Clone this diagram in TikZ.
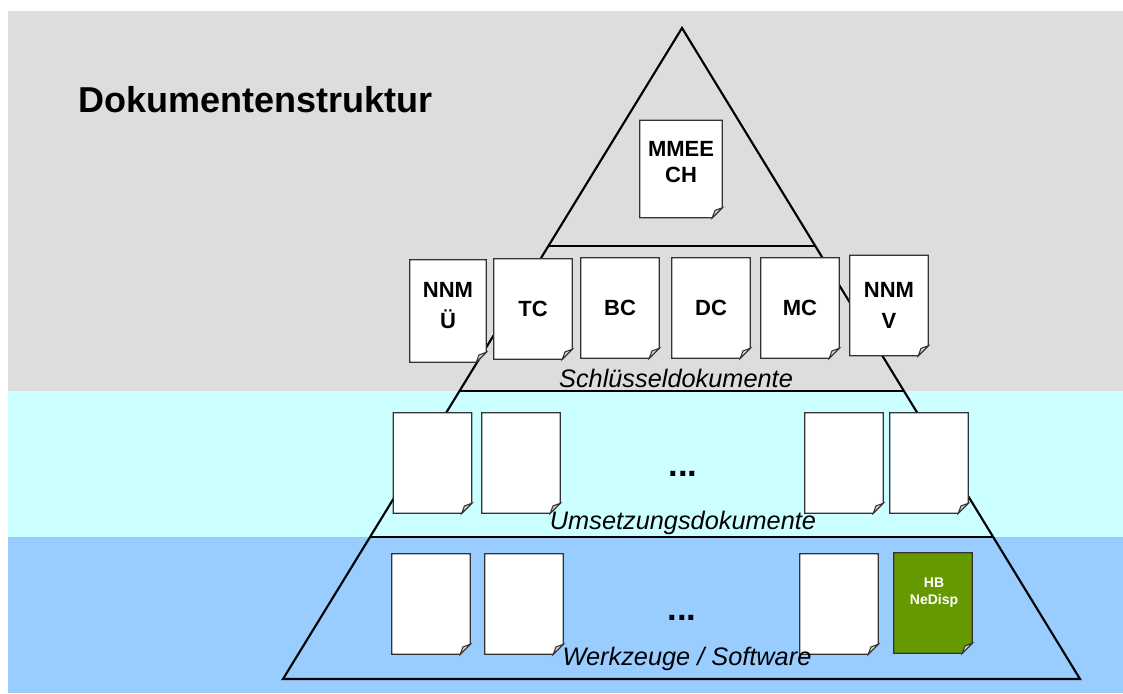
\documentclass[tikz,border=0pt]{standalone}
\usepackage{fontspec}
\setmainfont{Liberation Sans}
\usetikzlibrary{calc,positioning}
\pgfdeclarelayer{back}
\pgfdeclarelayer{paper}
\pgfsetlayers{back,paper,main}

\definecolor{bandgray}{HTML}{DDDDDD}
\definecolor{bandcyan}{HTML}{CCFFFF}
\definecolor{bandblue}{HTML}{99CCFF}
\definecolor{hbgreen}{HTML}{669900}

\begin{document}
\begin{tikzpicture}[x=0.75pt,y=-0.75pt,
  docpage/.style={minimum width=58.5pt,minimum height=75pt,inner sep=0pt,align=center,
    font=\bfseries\fontsize{16.5}{23.5}\selectfont},
  pageline/.style={line width=0.8pt,draw=black!80},
  pyramid/.style={line width=1.6pt,line join=miter},
  levellabel/.style={font=\itshape\fontsize{19}{22}\selectfont},
  dots/.style={font=\bfseries\fontsize{26}{30}\selectfont}]

  \useasboundingbox (0,0) rectangle (1123,693);

  % pyramid corners
  \coordinate (apex) at (682,28);
  \coordinate (bl) at (283,679);
  \coordinate (br) at (1080,679);

  \begin{pgfonlayer}{back}
    \fill [bandgray] (8,11) rectangle (1123,391);
    \fill [bandcyan] (8,391) rectangle (1123,537);
    \fill [bandblue] (8,537) rectangle (1123,693);
    \draw [pyramid] (apex) -- (bl) -- (br) -- cycle;
    \draw [pyramid] ($(apex)!0.3349!(bl)$) -- ($(apex)!0.3349!(br)$);
    \draw [pyramid] ($(apex)!0.5576!(bl)$) -- ($(apex)!0.5576!(br)$);
    \draw [pyramid] ($(apex)!0.7819!(bl)$) -- ($(apex)!0.7819!(br)$);
  \end{pgfonlayer}

  \node [anchor=west,font=\bfseries\fontsize{27}{32}\selectfont] (title) at (74,100) {Dokumentenstruktur};

  % top
  \node [docpage,minimum width=61.5pt,minimum height=72.75pt,font=\bfseries\fontsize{16.5}{20}\selectfont]
    (mmeech) at (681,169) {MMEE\\CH\rule[-10.5pt]{0pt}{10.5pt}};

  % key documents
  \node [docpage,minimum width=57pt,minimum height=76.5pt] (nnmu) at (448,311) {NNM\\Ü\rule[-8.3pt]{0pt}{8.3pt}};
  \node [docpage] (tc) at (533,309) {TC};
  \node [docpage] (bc) at (620,308) {BC};
  \node [docpage] (dc) at (711,308) {DC};
  \node [docpage] (mc) at (800,308) {MC};
  \node [docpage] (nnmv) at (889,305.5) {NNM\\V};
  \node [levellabel] (schl) at (676,378) {Schlüsseldokumente};

  % implementation documents
  \node [docpage] (ua) at (432.5,463) {};
  \node [docpage] (ub) at (521,463) {};
  \node [docpage] (uc) at (844,463) {};
  \node [docpage] (ud) at (929,463) {};
  \node [dots] (udots) at (683,474) {...};
  \node [levellabel] (umset) at (683,523) {Umsetzungsdokumente};

  % tools
  \node [docpage] (wa) at (431,604) {};
  \node [docpage] (wb) at (524,604) {};
  \node [docpage] (wc) at (839,604) {};
  \node [docpage] (hb) at (933,603) {};
  \node [font=\bfseries\fontsize{10.5}{12.75}\selectfont,text=white,align=center] (hbtext) at (934,593) {HB\\NeDisp};
  \node [dots] (wdots) at (682,618) {...};
  \node [levellabel] (werk) at (687,659) {Werkzeuge  / Software};

  \begin{pgfonlayer}{paper}
    \foreach \n/\c in {mmeech/white,nnmu/white,tc/white,bc/white,dc/white,mc/white,nnmv/white,
        ua/white,ub/white,uc/white,ud/white,wa/white,wb/white,wc/white,hb/hbgreen}{
      \draw [pageline,fill=\c] (\n.north west) -- (\n.north east) -- ([yshift=7.5pt]\n.south east)
        -- ([xshift=-7.5pt]\n.south east) -- (\n.south west) -- cycle;
      \draw [pageline,fill=gray!35] ([yshift=7.5pt]\n.south east) -- ([xshift=-7.5pt]\n.south east)
        -- ([xshift=-5.5pt,yshift=5.5pt]\n.south east) -- cycle;
    }
  \end{pgfonlayer}
\end{tikzpicture}
\end{document}
